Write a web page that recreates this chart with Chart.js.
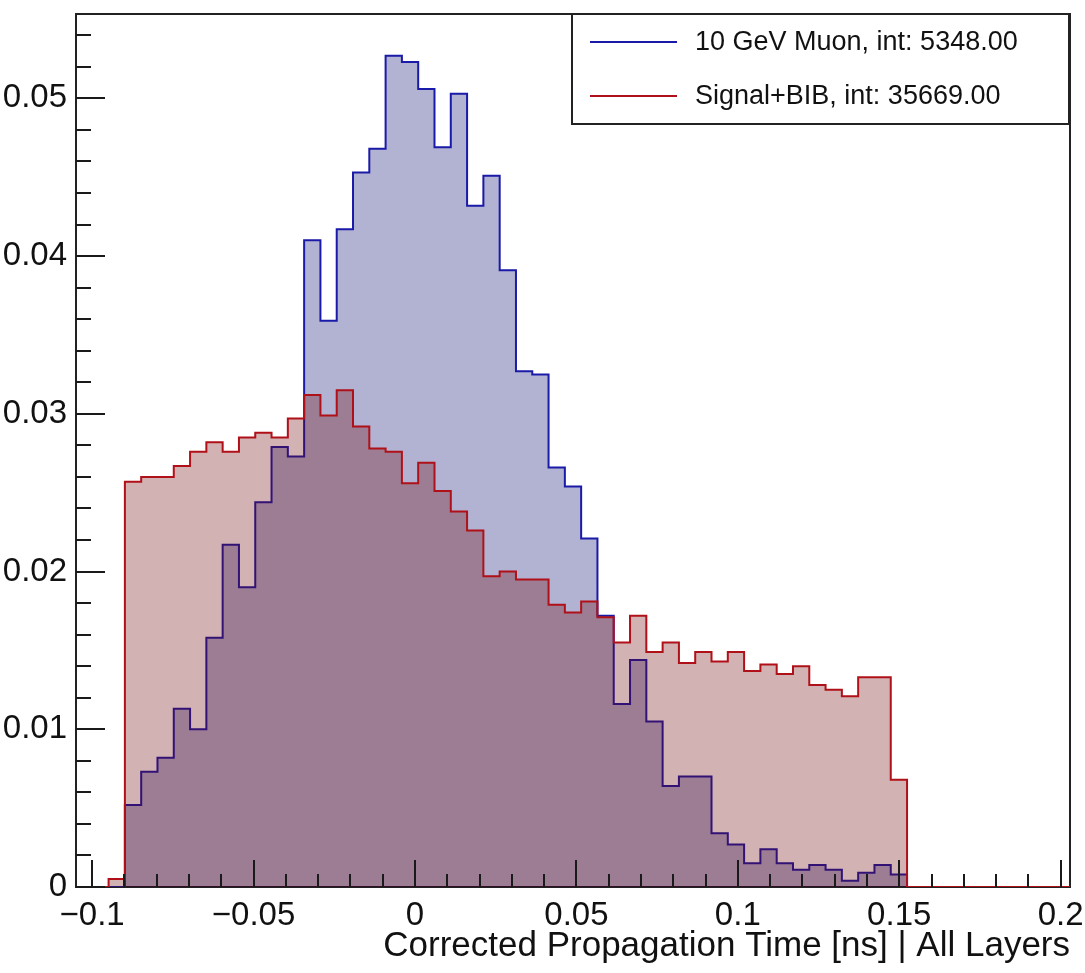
<!DOCTYPE html>
<html>
<head>
<meta charset="utf-8">
<script src="https://cdn.jsdelivr.net/npm/chart.js@4.4.1/dist/chart.umd.min.js"></script>
<style>
  html, body { margin: 0; padding: 0; background: #fff; }
  canvas { display: block; }
</style>
</head>
<body>
<canvas id="timeChart" width="1085" height="973"></canvas>
<script>
// histogram binning (61 bins)
const xMin = -0.105
const xMax = 0.2029
const yMax = 0.05535

// 10 GeV muon, normalised per bin
const muonValues = [
  0, 0, 0, 0.0052, 0.0073, 0.0082, 0.0113, 0.0100, 0.0158, 0.0217,
  0.0190, 0.0244, 0.0279, 0.0273, 0.0410, 0.0359, 0.0417, 0.0453, 0.0468, 0.0527,
  0.0523, 0.0506, 0.0469, 0.0503, 0.0432, 0.0451, 0.0391, 0.0327, 0.0325, 0.0266,
  0.0254, 0.0221, 0.0172, 0.0116, 0.0144, 0.0105, 0.0064, 0.0070, 0.0070, 0.0034,
  0.0027, 0.0015, 0.0024, 0.0015, 0.0011, 0.0014, 0.0011, 0.0004, 0.0009, 0.0014,
  0.0008, 0, 0, 0, 0, 0, 0, 0, 0, 0, 0
]

// signal + BIB, normalised per bin
const bibValues = [
  0, 0, 0.0005, 0.0257, 0.0260, 0.0260, 0.0267, 0.0276, 0.0282, 0.0276,
  0.0285, 0.0288, 0.0285, 0.0297, 0.0312, 0.0299, 0.0315, 0.0292, 0.0278, 0.0276,
  0.0256, 0.0269, 0.0251, 0.0238, 0.0226, 0.0197, 0.0200, 0.0195, 0.0195, 0.0179,
  0.0174, 0.0181, 0.0171, 0.0155, 0.0172, 0.0149, 0.0155, 0.0142, 0.0149, 0.0143,
  0.0149, 0.0137, 0.0141, 0.0135, 0.0140, 0.0128, 0.0125, 0.0121, 0.0133, 0.0133,
  0.0068, 0, 0, 0, 0, 0, 0, 0, 0, 0, 0
]

const xTickValues = [-0.1, -0.05, 0, 0.05, 0.1, 0.15, 0.2]
const xTickLabels = ["\u22120.1", "\u22120.05", "0", "0.05", "0.1", "0.15", "0.2"]
const yTickValues = [0, 0.01, 0.02, 0.03, 0.04, 0.05]
const yTickLabels = ["0", "0.01", "0.02", "0.03", "0.04", "0.05"]

const seriesNames = ["10 GeV Muon, int: 5348.00", "Signal+BIB, int: 35669.00"]
const xTitle = "Corrected Propagation Time [ns] | All Layers"

const FONT = "'Liberation Sans', Arial, Helvetica, sans-serif"
const BLUE = "#1a1aa8"
const RED = "#b01018"

function histPoints(values) {
  const width = (xMax - xMin) / values.length
  const pts = values.map((v, i) => ({ x: xMin + i * width, y: v }))
  pts.push({ x: xMax, y: values[values.length - 1] })
  return pts
}

// frame, inward ticks (ROOT style) and the boxed legend
const frameAndTicks = {
  id: "frameAndTicks",
  beforeDatasetsDraw(chart) {
    const { ctx, chartArea: a } = chart
    ctx.save()
    ctx.strokeStyle = "#222"
    ctx.lineWidth = 2
    ctx.strokeRect(a.left, a.top, a.right - a.left, a.bottom - a.top)
    ctx.restore()
  },
  afterDatasetsDraw(chart) {
    const { ctx, chartArea: a, scales } = chart
    const x = scales.x, y = scales.y
    ctx.save()
    ctx.strokeStyle = "#1a1a1a"
    ctx.lineWidth = 2
    ctx.beginPath()
    for (let i = -10; i <= 20; i++) {
      const px = Math.round(x.getPixelForValue(i / 100))
      const len = i % 5 === 0 ? 27 : 13
      ctx.moveTo(px, a.bottom)
      ctx.lineTo(px, a.bottom - len)
    }
    for (let i = 0; i <= 27; i++) {
      const py = Math.round(y.getPixelForValue(i * 0.002))
      const len = i % 5 === 0 ? 29 : 15
      ctx.moveTo(a.left, py)
      ctx.lineTo(a.left + len, py)
    }
    ctx.stroke()
    ctx.restore()
  },
  afterDraw(chart) {
    const { ctx, chartArea: a } = chart
    const box = { left: 572, top: a.top, right: a.right - 1, bottom: 124 }
    ctx.save()
    ctx.fillStyle = "#fff"
    ctx.fillRect(box.left, box.top, box.right - box.left, box.bottom - box.top)
    ctx.strokeStyle = "#222"
    ctx.lineWidth = 2
    ctx.strokeRect(box.left, box.top, box.right - box.left, box.bottom - box.top)
    const rows = [
      { color: BLUE, y: 42, label: seriesNames[0] },
      { color: RED, y: 96, label: seriesNames[1] }
    ]
    ctx.font = `27px ${FONT}`
    ctx.textBaseline = "middle"
    ctx.textAlign = "left"
    rows.forEach(r => {
      ctx.strokeStyle = r.color
      ctx.lineWidth = 2
      ctx.beginPath()
      ctx.moveTo(590, r.y)
      ctx.lineTo(677, r.y)
      ctx.stroke()
      ctx.fillStyle = "#111"
      ctx.fillText(r.label, 695, r.y + 1)
    })
    ctx.restore()
  }
}

new Chart(document.getElementById("timeChart"), {
  type: "line",
  data: {
    datasets: [
      {
        label: seriesNames[0],
        data: histPoints(muonValues),
        stepped: true,
        borderColor: BLUE,
        borderWidth: 2,
        backgroundColor: "rgba(0, 0, 105, 0.3)",
        fill: "origin",
        pointRadius: 0,
        order: 2
      },
      {
        label: seriesNames[1],
        data: histPoints(bibValues),
        stepped: true,
        borderColor: RED,
        borderWidth: 2,
        backgroundColor: "rgba(105, 0, 0, 0.3)",
        fill: "origin",
        pointRadius: 0,
        order: 1
      }
    ]
  },
  options: {
    animation: false,
    responsive: false,
    layout: { padding: { top: 14, right: 15, left: 0, bottom: 0 } },
    plugins: {
      legend: { display: false },
      tooltip: { enabled: false }
    },
    scales: {
      x: {
        type: "linear",
        min: xMin,
        max: xMax,
        afterBuildTicks: (s) => { s.ticks = xTickValues.map(v => ({ value: v })) },
        afterFit: (s) => {
          s.height = 86
          s.paddingLeft = 0
          s.paddingRight = 0
        },
        grid: { display: false, drawTicks: false },
        border: { display: false },
        ticks: {
          padding: 9,
          maxRotation: 0,
          autoSkip: false,
          color: "#111",
          font: { family: FONT, size: 33 },
          callback: (v, i) => xTickLabels[i]
        },
        title: {
          display: true,
          text: xTitle,
          align: "end",
          color: "#111",
          font: { family: FONT, size: 35 },
          padding: { top: 0, bottom: 6 }
        }
      },
      y: {
        type: "linear",
        min: 0,
        max: yMax,
        afterBuildTicks: (s) => { s.ticks = yTickValues.map(v => ({ value: v })) },
        afterFit: (s) => {
          s.width = 76
          s.paddingTop = 0
          s.paddingBottom = 0
        },
        grid: { display: false, drawTicks: false },
        border: { display: false },
        ticks: {
          padding: 9,
          color: "#111",
          font: { family: FONT, size: 33 },
          callback: (v, i) => yTickLabels[i]
        }
      }
    }
  },
  plugins: [frameAndTicks]
})
</script>
</body>
</html>
